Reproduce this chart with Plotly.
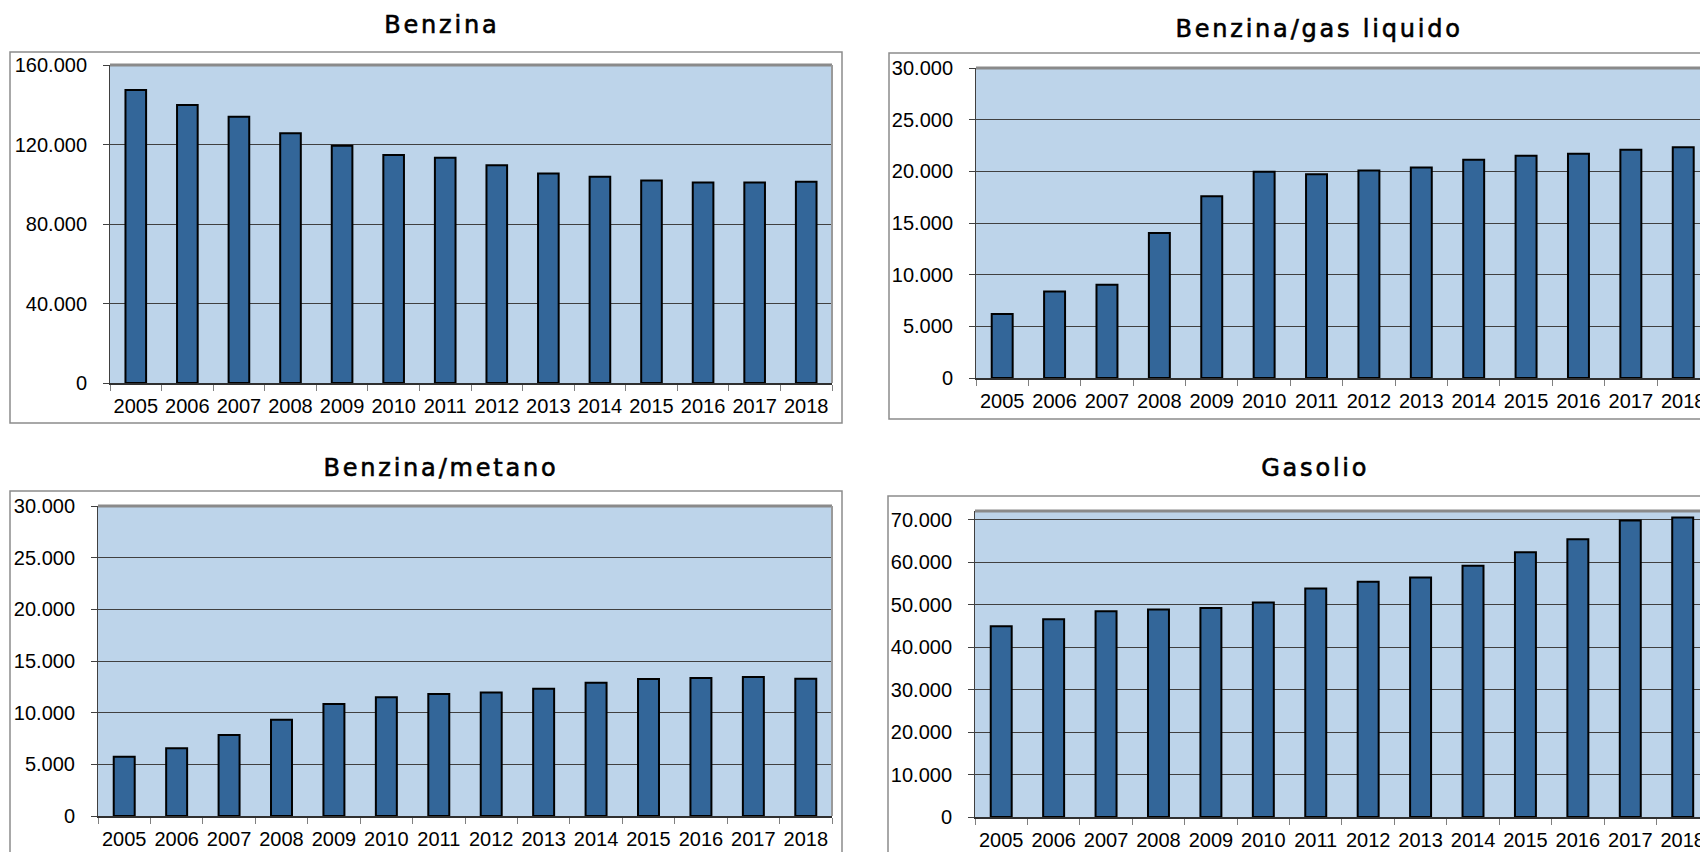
import plotly.graph_objects as go

W, H = 1700, 852

# DATI (veicoli per alimentazione)
anni = ["2005", "2006", "2007", "2008", "2009", "2010", "2011",
        "2012", "2013", "2014", "2015", "2016", "2017", "2018"]
benzina = [147400, 139900, 134000, 125600, 119400, 114700, 113300,
           109600, 105400, 103800, 101900, 100900, 100900, 101200]
benzina_gpl = [6200, 8370, 9020, 14030, 17590, 19950, 19720,
               20080, 20370, 21110, 21500, 21690, 22080, 22340]
benzina_metano = [5740, 6550, 7840, 9320, 10840, 11480, 11810,
                  11940, 12320, 12900, 13260, 13360, 13450, 13290]
gasolio = [44890, 46540, 48420, 48810, 49200, 50460, 53760,
           55330, 56350, 59090, 62310, 65370, 69770, 70470]

titoli = ["Benzina", "Benzina/gas liquido", "Benzina/metano", "Gasolio"]
serie = [benzina, benzina_gpl, benzina_metano, gasolio]
y_max = [160000, 30000, 30000, 72000]
y_dtick = [40000, 5000, 5000, 10000]


def fx(px):
    return px / W


def fy(py):
    return 1 - py / H


# POSIZIONI IN PIXEL: area grafico, riquadro esterno, titolo
pannelli = [
    dict(plot=(110, 832, 65, 383), frame=(10, 842, 52, 423), title=(442, 25), xmax=13.5),
    dict(plot=(976, 1700, 68, 378), frame=(889, 1730, 53, 419), title=(1319, 29), xmax=13.32),
    dict(plot=(98, 832, 506, 816), frame=(10, 842, 491, 880), title=(441, 468), xmax=13.5),
    dict(plot=(975, 1700, 511, 817), frame=(888, 1730, 496, 880), title=(1315, 468), xmax=13.33),
]

fig = go.Figure()
shapes = []
annotations = []

for i, p in enumerate(pannelli):
    sfx = "" if i == 0 else str(i + 1)
    x0, x1, y0, y1 = p["plot"]
    fig.add_trace(go.Bar(
        x=anni, y=serie[i],
        xaxis="x" + sfx, yaxis="y" + sfx,
        width=0.4,
        marker_color="#336699",
        marker_line_color="black",
        marker_line_width=2,
        showlegend=False,
        hovertemplate="%{x}: %{y:,}<extra></extra>",
    ))
    fig.update_layout(**{
        "xaxis" + sfx: dict(
            domain=[fx(x0), fx(x1)], anchor="y" + sfx, type="category",
            range=[-0.5, p["xmax"]], showgrid=False, zeroline=False,
            showline=True, linecolor="#303030", linewidth=1.5,
            ticks="outside", tickson="boundaries", ticklen=6, tickcolor="#808080",
            tickangle=0,
            tickfont=dict(family="Liberation Sans, Arial", size=20, color="black"),
            ticklabelstandoff=4, fixedrange=True,
        ),
        "yaxis" + sfx: dict(
            domain=[fy(y1), fy(y0)], anchor="x" + sfx,
            range=[0, y_max[i]], dtick=y_dtick[i], tickformat=",d",
            showgrid=True, gridcolor="#404040", gridwidth=1, zeroline=False,
            showline=True, linecolor="#404040", linewidth=1,
            ticks="outside", ticklen=6, tickcolor="#404040",
            tickfont=dict(family="Liberation Sans, Arial", size=20, color="black"),
            ticklabelstandoff=12, fixedrange=True,
        ),
    })

    # bordo superiore/destro dell'area grafico (effetto Excel)
    right = fx(x1) + (0.01 if x1 >= W else 0)
    shapes.append(dict(type="line", xref="paper", yref="paper",
                       x0=fx(x0), x1=right, y0=fy(y0), y1=fy(y0),
                       line=dict(color="#8a8a8a", width=3)))
    if x1 < W:
        shapes.append(dict(type="line", xref="paper", yref="paper",
                           x0=fx(x1), x1=fx(x1), y0=fy(y0), y1=fy(y1),
                           line=dict(color="#9a9a9a", width=2)))

    # riquadro esterno
    fx0, fx1, fy0, fy1 = p["frame"]
    shapes.append(dict(type="rect", xref="paper", yref="paper",
                       x0=fx(fx0), x1=fx(fx1), y0=fy(fy1), y1=fy(fy0),
                       line=dict(color="#8c8c8c", width=1.5), layer="below"))

    tx, ty = p["title"]
    annotations.append(dict(text=titoli[i], xref="paper", yref="paper",
                            x=fx(tx), y=fy(ty), xanchor="center", yanchor="middle",
                            showarrow=False,
                            font=dict(family="DejaVu Sans, Verdana", size=24, color="black")))

fig.update_layout(
    width=W, height=H,
    margin=dict(l=0, r=0, t=0, b=0, autoexpand=False),
    paper_bgcolor="white",
    plot_bgcolor="#bdd4ea",
    separators=",.",
    bargap=0.5,
    shapes=shapes,
    annotations=annotations,
)

# pagina senza margini + titoli spaziati e un po' piu' marcati come nell'originale
post = ("document.body.style.margin='0';document.body.style.overflow='hidden';"
        "document.querySelectorAll('#{plot_id} .annotation-text').forEach(function(t){"
        "t.style.letterSpacing='2.8px';t.style.stroke='black';t.style.strokeWidth='0.6px';});")
fig.write_html("out.html", config={"displayModeBar": False}, post_script=post)
